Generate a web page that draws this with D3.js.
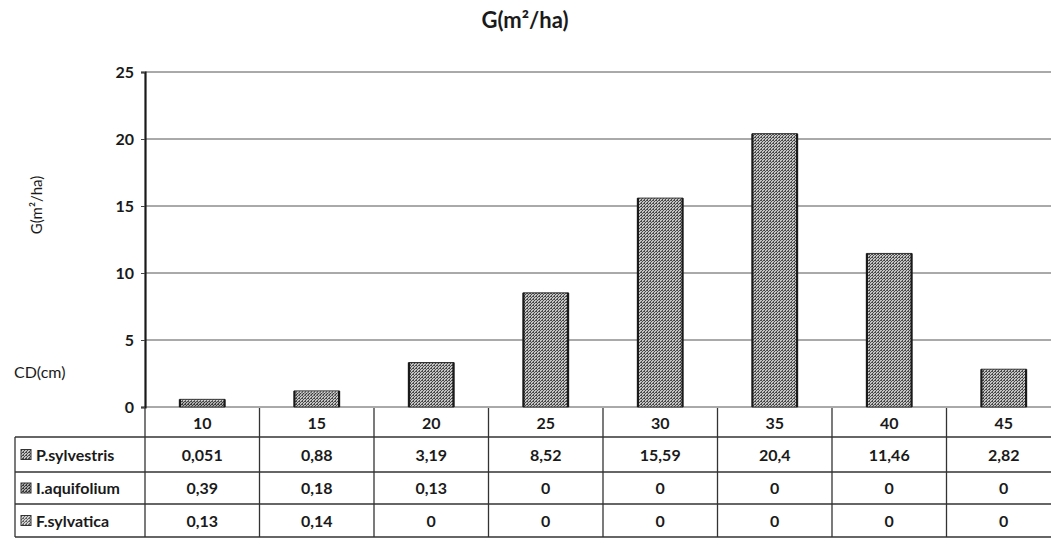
<!DOCTYPE html>
<html><head><meta charset="utf-8">
<script src="https://cdn.jsdelivr.net/npm/d3@7"></script>
<style>
html,body{margin:0;padding:0;background:#fff;}
svg{display:block;font-family:Lato,"Open Sans",sans-serif;}
</style></head>
<body><svg id="c" width="1051" height="544"></svg>
<script>
const categories = ["10","15","20","25","30","35","40","45"];
const seriesNames = ["P.sylvestris","I.aquifolium","F.sylvatica"];
const pSylvestris = [0.051,0.88,3.19,8.52,15.59,20.4,11.46,2.82];
const iAquifolium = [0.39,0.18,0.13,0,0,0,0,0];
const fSylvatica = [0.13,0.14,0,0,0,0,0,0];
const tableLabels = [
  ["0,051","0,88","3,19","8,52","15,59","20,4","11,46","2,82"],
  ["0,39","0,18","0,13","0","0","0","0","0"],
  ["0,13","0,14","0","0","0","0","0","0"]
];
const yTicks = [0,5,10,15,20,25];
const titleText = "G(m²/ha)";
const yLabel = "G(m²/ha)";
const xLabel = "CD(cm)";

const svg = d3.select("#c");
const plotLeft = 145, plotRight = 1061, plotTop = 72, plotBottom = 407;
const y = d3.scaleLinear().domain([0,25]).range([plotBottom, plotTop]);
const xCell = d3.scaleBand().domain(categories).range([plotLeft, plotRight]).padding(0);
const xBar = d3.scaleBand().domain(categories).range([plotLeft, plotRight]).paddingInner(0.61).paddingOuter(0.305);

// patterns
const defs = svg.append("defs");
const pats = [
  {id:"p0", a:"#4a4a4a", b:"#c4c4c4"},
  {id:"p1", a:"#3a3a3a", b:"#aaaaaa"},
  {id:"p2", a:"#666", b:"#d0d0d0"}
];
pats.forEach(p=>{
  const pt = defs.append("pattern").attr("id",p.id).attr("width",3).attr("height",3).attr("patternUnits","userSpaceOnUse");
  pt.append("rect").attr("width",3).attr("height",3).attr("fill",p.b);
  pt.append("rect").attr("x",0).attr("y",0).attr("width",1).attr("height",1).attr("fill",p.a);
  pt.append("rect").attr("x",2).attr("y",1).attr("width",1).attr("height",1).attr("fill",p.a);
  pt.append("rect").attr("x",1).attr("y",2).attr("width",1).attr("height",1).attr("fill",p.a);
  pt.append("rect").attr("x",2).attr("y",2).attr("width",1).attr("height",1).attr("fill",p.a);
});

// gridlines
svg.append("g").selectAll("line").data(yTicks).join("line")
  .attr("x1",plotLeft).attr("x2",1051)
  .attr("y1",d=>y(d)).attr("y2",d=>y(d))
  .attr("stroke","#555").attr("stroke-width",1);

// y axis
const yAxis = svg.append("g").attr("transform",`translate(${plotLeft},0)`)
  .call(d3.axisLeft(y).tickValues(yTicks).tickSize(4).tickPadding(7));
yAxis.select(".domain").attr("stroke","#1a1a1a").attr("stroke-width",2.2);
yAxis.selectAll(".tick line").attr("stroke","#444");
yAxis.selectAll("text").attr("font-size",16).attr("fill","#1a1a1a").attr("font-family","Lato, sans-serif").attr("font-weight","bold");

// stacked bars
const rows = categories.map((c,i)=>({cat:c, P:pSylvestris[i], I:iAquifolium[i], F:fSylvatica[i]}));
const stack = d3.stack().keys(["P","I","F"])(rows);
stack.forEach((layer,li)=>{
  svg.append("g").selectAll("rect").data(layer).join("rect")
    .attr("x",d=>xBar(d.data.cat))
    .attr("width",xBar.bandwidth())
    .attr("y",d=>y(d[1]))
    .attr("height",d=>Math.max(0,y(d[0])-y(d[1])))
    .attr("fill",`url(#p${li})`);
});
// bar outlines
svg.append("g").selectAll("rect").data(rows).join("rect")
  .attr("x",d=>xBar(d.cat))
  .attr("width",xBar.bandwidth())
  .attr("y",d=>y(d.P+d.I+d.F))
  .attr("height",d=>y(0)-y(d.P+d.I+d.F))
  .attr("fill","none").attr("stroke","#333").attr("stroke-width",1);
// darker side edges
svg.append("g").selectAll("line").data(rows.flatMap(d=>[{d,s:0},{d,s:1}])).join("line")
  .attr("x1",o=>xBar(o.d.cat)+o.s*xBar.bandwidth())
  .attr("x2",o=>xBar(o.d.cat)+o.s*xBar.bandwidth())
  .attr("y1",o=>y(o.d.P+o.d.I+o.d.F))
  .attr("y2",y(0))
  .attr("stroke","#1a1a1a").attr("stroke-width",2.2);

// data table
const hdrTop = plotBottom+1, hdrBot = 437;
const rowB = [437,472,504,537];
const tbl = svg.append("g").attr("stroke","#333").attr("stroke-width",1.3);
categories.forEach((c)=>{
  tbl.append("line").attr("x1",xCell(c)).attr("x2",xCell(c)).attr("y1",hdrTop).attr("y2",rowB[3]);
});
tbl.append("line").attr("x1",plotRight).attr("x2",plotRight).attr("y1",hdrTop).attr("y2",rowB[3]);
rowB.forEach(yy=>{
  tbl.append("line").attr("x1",15).attr("x2",1051).attr("y1",yy).attr("y2",yy);
});
tbl.append("line").attr("x1",15).attr("x2",15).attr("y1",rowB[0]).attr("y2",rowB[3]);

svg.append("g").selectAll("text").data(categories).join("text")
  .attr("x",d=>xCell(d)+xCell.bandwidth()/2).attr("y",(hdrTop+hdrBot)/2+6)
  .attr("text-anchor","middle").attr("font-size",16).attr("fill","#1a1a1a").attr("font-weight","bold")
  .text(d=>d);

tableLabels.forEach((row,ri)=>{
  svg.append("g").selectAll("text").data(row).join("text")
    .attr("x",(d,i)=>xCell(categories[i])+xCell.bandwidth()/2)
    .attr("y",(rowB[ri]+rowB[ri+1])/2+6)
    .attr("text-anchor","middle").attr("font-size",16).attr("fill","#1a1a1a").attr("font-weight","bold")
    .text(d=>d);
});

seriesNames.forEach((n,ri)=>{
  const cy = (rowB[ri]+rowB[ri+1])/2;
  svg.append("rect").attr("x",21).attr("y",cy-5).attr("width",10).attr("height",10)
    .attr("fill",`url(#p${ri})`).attr("stroke","#333").attr("stroke-width",1);
  svg.append("text").attr("x",36).attr("y",cy+6).attr("font-size",16).attr("fill","#1a1a1a").attr("font-weight","bold")
    .text(n);
});

svg.append("text").attr("x",525).attr("y",28).attr("text-anchor","middle")
  .attr("font-size",22).attr("font-weight","bold").attr("fill","#1a1a1a").text(titleText);

svg.append("text").attr("transform","translate(42,205) rotate(-90)").attr("text-anchor","middle")
  .attr("font-size",15).attr("fill","#1a1a1a").text(yLabel);

svg.append("text").attr("x",14).attr("y",378).attr("font-size",16).attr("fill","#1a1a1a").text(xLabel);
</script>
</body></html>
